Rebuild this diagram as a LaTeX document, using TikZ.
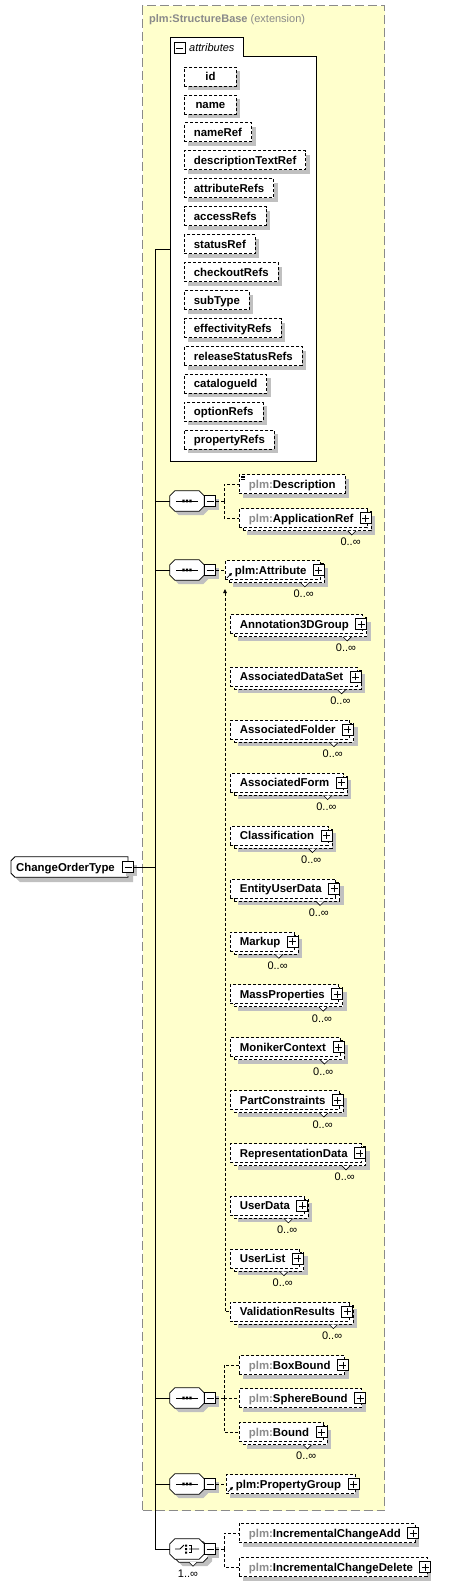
\documentclass[tikz,border=0pt]{standalone}
\usepackage{fontspec}
\setmainfont{Liberation Sans}
\usetikzlibrary{shadows,arrows.meta}
\pgfdeclarelayer{L0}
\pgfdeclarelayer{L1}
\pgfsetlayers{L0,L1,main}
\definecolor{yel}{HTML}{FFFFCC}
\definecolor{shd}{HTML}{C0C0C0}
\definecolor{pfxc}{HTML}{8C8C8C}
\definecolor{extc}{HTML}{8A8A8A}
\newcommand\pfx{{\color{pfxc}plm:}}
\newcommand\pgap{\kern4.5pt}
\newcommand\plusbox[1]{\node[pbox] (#1-p) at ([xshift=-2pt]#1.east) {};}
\newcommand\mult[1]{%
  \draw[line width=0.6pt, fill=white] ([shift={(-20,3)}]#1.south east) -- ([shift={(-16,7)}]#1.south east) -- ([shift={(-12,3)}]#1.south east);
  \node[mlab] (#1-l) at ([shift={(-7,18)}]#1.south east) {0..∞};}
\newcommand\octshape[4]{%
  \path[#4] ([shift={(#2+5,#3)}]#1.north west) -- ([shift={(#2-5,#3)}]#1.north east) -- ([shift={(#2,#3+5)}]#1.north east) -- ([shift={(#2,#3-5)}]#1.south east) -- ([shift={(#2-5,#3)}]#1.south east) -- ([shift={(#2+5,#3)}]#1.south west) -- ([shift={(#2,#3-5)}]#1.south west) -- ([shift={(#2,#3+5)}]#1.north west) -- cycle;}
\newcommand\cotshape[4]{%
  \path[#4] ([shift={(#2+4,#3)}]#1.north west) -- ([shift={(#2,#3)}]#1.north east) -- ([shift={(#2,#3)}]#1.south east) -- ([shift={(#2+4,#3)}]#1.south west) -- ([shift={(#2,#3-4)}]#1.south west) -- ([shift={(#2,#3+4)}]#1.north west) -- cycle;}
\newcommand\seqsym[1]{%
  \draw[shift={(#1.center)}, line width=0.9pt] (-11,0) -- (11,0);
  \fill[shift={(#1.center)}] (-4.7,-1.3) rectangle (-2.3,1.3) (-1.2,-1.3) rectangle (1.2,1.3) (2.3,-1.3) rectangle (4.7,1.3);}
\tikzset{
  base/.style={font=\fontsize{11.4}{13}\selectfont\bfseries, text height=10pt, text depth=2pt, inner ysep=0pt, inner xsep=9.5pt, anchor=west},
  dsh/.style={draw=black, dash pattern=on 3pt off 2pt, line width=0.8pt},
  single/.style={base, dsh, fill=white, minimum height=19pt, general shadow={fill=shd, shadow xshift=4pt, shadow yshift=-4pt}},
  multi/.style={base, dsh, fill=white, minimum height=19pt, general shadow={fill=shd, shadow xshift=8pt, shadow yshift=-7pt}, general shadow={dsh, fill=white, shadow xshift=4pt, shadow yshift=-3pt}},
  attrib/.style={base, dsh, fill=white, minimum height=19pt, minimum width=52pt, general shadow={fill=shd, shadow xshift=4pt, shadow yshift=-4pt}},
  pbox/.style={draw=black, fill=white, line width=0.8pt, minimum size=11pt, inner sep=0pt, path picture={\draw[line width=0.8pt] ([xshift=2pt]path picture bounding box.west) -- ([xshift=-2pt]path picture bounding box.east) ([yshift=2pt]path picture bounding box.south) -- ([yshift=-2pt]path picture bounding box.north);}},
  mbox/.style={draw=black, fill=white, line width=0.8pt, minimum size=11pt, inner sep=0pt, path picture={\draw[line width=0.8pt] ([xshift=2pt]path picture bounding box.west) -- ([xshift=-2pt]path picture bounding box.east);}},
  msh/.style={general shadow={fill=shd, shadow xshift=3pt, shadow yshift=-3pt}},
  mlab/.style={font=\fontsize{11}{13}\selectfont, inner sep=0pt, anchor=base east},
  comp/.style={minimum width=34pt, minimum height=20pt, inner sep=0pt},
  trunk/.style={line width=1pt, black},
  dconn/.style={dash pattern=on 3pt off 2pt, line width=0.8pt, black},
  refic/.style={line width=0.8pt, -{Triangle[length=3pt,width=3pt]}},
}
\begin{document}
\begin{tikzpicture}[x=1pt,y=-1pt]
\useasboundingbox (0,0) rectangle (455,1586);
% extension container
\begin{pgfonlayer}{L0}
\fill[white] (0,0) rectangle (455,1586);
\node[draw=extc, fill=yel, line width=1.2pt, dash pattern=on 9pt off 4pt, minimum width=242pt, minimum height=1505pt, inner sep=0pt, anchor=north west] (ext) at (142,5) {};
\end{pgfonlayer}
\node[anchor=base west, font=\fontsize{11}{13}\selectfont, text=extc, inner sep=0pt] (exthdr) at (149,23) {\textbf{plm:StructureBase} (extension)};
% attributes box
\draw[line width=1pt, fill=white] (170,38) -- (243,38) -- (243,57) -- (316,57) -- (316,461) -- (170,461) -- cycle;
\node[mbox] (attrm) at (179.5,48) {};
\node[anchor=base west, font=\fontsize{11}{13}\selectfont\itshape, inner sep=0pt] (attrlbl) at (189,52) {attributes};
\coordinate (attrL) at (170,250);
\foreach \n [count=\i from 0] in {id,name,nameRef,descriptionTextRef,attributeRefs,accessRefs,statusRef,checkoutRefs,subType,effectivityRefs,releaseStatusRefs,catalogueId,optionRefs,propertyRefs}{
  \node[attrib] (a-\n) at (184,{76.5+27.95*\i}) {\n};
}
% root
\node[base, inner xsep=5pt, minimum height=20pt] (cot) at (11,867) {ChangeOrderType\kern8pt};
\begin{pgfonlayer}{L1}
\cotshape{cot}{5}{5}{fill=shd}
\cotshape{cot}{0}{0}{draw=black, fill=white, line width=0.8pt}
\end{pgfonlayer}
\node[mbox, msh] (cot-m) at (cot.east) {};
% compositors
\node[comp] (seq1) at (187,501) {};
\node[comp] (seq2) at (187,570) {};
\node[comp] (seq3) at (187,1398) {};
\node[comp] (seq4) at (187,1484) {};
\node[comp] (ch) at (187,1549) {};
\begin{pgfonlayer}{L1}
\foreach \s in {seq1,seq2,seq3,seq4}{
  \octshape{\s}{4}{4}{fill=shd}
  \octshape{\s}{0}{0}{draw=black, fill=white, line width=0.8pt}
}
\octshape{ch}{8}{7}{fill=shd}
\octshape{ch}{4}{3}{draw=black, fill=white, line width=0.8pt}
\octshape{ch}{0}{0}{draw=black, fill=white, line width=0.8pt}
\end{pgfonlayer}
\foreach \s in {seq1,seq2,seq3,seq4}{
  \seqsym{\s}
  \node[mbox, msh, anchor=west] (\s-m) at (\s.east) {};
}
\draw[shift={(ch.center)}, line width=0.8pt] (-12,0) -- (-7,0) -- (-3,-4) (2,-3.5) -- (4.5,-3.5) -- (4.5,3.5) -- (2,3.5) (2,0) -- (12,0);
\fill[shift={(ch.center)}] (-2,-4.5) rectangle (0,-2.5) (-2,-1) rectangle (0,1) (-2,2.5) rectangle (0,4.5);
\node[mbox, msh, anchor=west] (ch-m) at (ch.east) {};
\draw[line width=0.6pt, fill=white] ([shift={(2,3)}]ch.south) -- ([shift={(6,7)}]ch.south) -- ([shift={(10,3)}]ch.south);
\node[mlab, anchor=base] (ch-l) at (188,1577) {1..∞};
% trunk
\coordinate (trunkTop) at (155,250);
\coordinate (trunkBot) at (155,1549);
\draw[trunk] (trunkTop) -- (trunkBot);
\draw[trunk] (trunkTop) -- (attrL);
\draw[trunk] (cot-m.east) -- (cot-m.east -| trunkTop);
\foreach \s in {seq1,seq2,seq3,seq4,ch}{\draw[trunk] (\s.west) -- (\s.west -| trunkTop);}
% sequence 1
\node[single] (desc) at (239,484) {\pfx Description};
\draw[line width=0.6pt] ([shift={(2,2)}]desc.north west) -- +(4,0) ([shift={(2,3.5)}]desc.north west) -- +(4,0) ([shift={(2,5)}]desc.north west) -- +(4,0);
\node[multi] (appref) at (239,518) {\pfx ApplicationRef\pgap};
\plusbox{appref}\mult{appref}
\coordinate (f1) at (224,501);
\draw[dconn] (seq1-m.east) -- (f1);
\draw[dconn] (f1) |- (desc.west);
\draw[dconn] (f1) |- (appref.west);
% sequence 2
\node[multi] (attr) at (225,570) {plm:Attribute\pgap};
\plusbox{attr}\mult{attr}
\draw[refic] ([shift={(2,-2)}]attr.south west) -- ([shift={(7,-7)}]attr.south west);
\draw[dconn] (seq2-m.east) -- (attr.west);
\foreach \n [count=\i from 0] in {Annotation3DGroup,AssociatedDataSet,AssociatedFolder,AssociatedForm,Classification,EntityUserData,Markup,MassProperties,MonikerContext,PartConstraints,RepresentationData,UserData,UserList,ValidationResults}{
  \node[multi] (sub\i) at (230,{624+52.9*\i}) {\n\pgap};
  \plusbox{sub\i}\mult{sub\i}
}
\coordinate (subTop) at (225,589);
\draw[dconn, {Triangle[length=4pt,width=3.5pt]}-] (subTop) |- (sub13.west);
% sequence 3
\node[single] (boxb) at (239,1365) {\pfx BoxBound\pgap};
\plusbox{boxb}
\node[single] (sphb) at (239,1398) {\pfx SphereBound\pgap};
\plusbox{sphb}
\node[multi] (bound) at (239,1432) {\pfx Bound\pgap};
\plusbox{bound}\mult{bound}
\coordinate (f3) at (224,1398);
\draw[dconn] (seq3-m.east) -- (f3);
\draw[dconn] (f3) |- (boxb.west);
\draw[dconn] (f3) -- (sphb.west);
\draw[dconn] (f3) |- (bound.west);
% sequence 4
\node[single] (pgroup) at (226,1484) {plm:PropertyGroup\pgap};
\plusbox{pgroup}
\draw[refic] ([shift={(2,-2)}]pgroup.south west) -- ([shift={(7,-7)}]pgroup.south west);
\draw[dconn] (seq4-m.east) -- (pgroup.west);
% choice
\node[single] (ica) at (239,1533) {\pfx IncrementalChangeAdd\pgap};
\plusbox{ica}
\node[single] (icd) at (239,1567) {\pfx IncrementalChangeDelete\pgap};
\plusbox{icd}
\coordinate (fc) at (224,1549);
\draw[dconn] (ch-m.east) -- (fc);
\draw[dconn] (fc) |- (ica.west);
\draw[dconn] (fc) |- (icd.west);
\end{tikzpicture}
\end{document}
